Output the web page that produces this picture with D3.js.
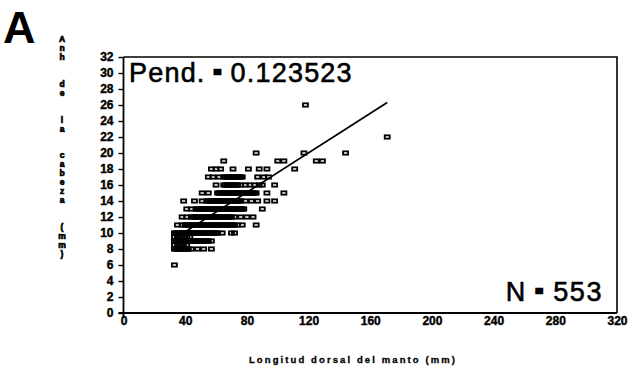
<!DOCTYPE html>
<html>
<head>
<meta charset="utf-8">
<script src="https://cdn.jsdelivr.net/npm/d3@7/dist/d3.min.js"></script>
<style>
  html, body { margin: 0; padding: 0; background: #fff; }
  svg { display: block; }
  text { font-family: "Liberation Sans", Arial, sans-serif; fill: #000; }
</style>
</head>
<body>
<svg id="chart" width="629" height="370"></svg>
<script>
// Head width (mm) of each row of measurements
const headWidth = [6, 8, 8.5, 9, 9.5, 10, 11, 12, 13, 14, 15, 16, 17, 18, 19, 20, 22, 26];

// Dorsal mantle length (mm) of the specimens in each head-width row
const mantleLength = [
  [33],
  [33, 34, 35, 36, 37, 38, 39, 40, 41, 42, 44, 48, 52, 57],
  [33, 35, 37, 39, 41],
  [33, 34, 35, 36, 37, 38, 39, 40, 41, 42, 43, 44, 45, 46, 47, 48, 49, 50, 51, 52, 53, 54, 55, 57],
  [33, 35, 37, 39, 41, 43],
  [33, 34, 35, 36, 37, 38, 39, 40, 41, 42, 43, 44, 45, 46, 47, 48, 49, 50, 51, 52, 53, 54, 55, 56, 57, 58, 59, 60, 61, 64, 70, 72],
  [35, 38, 40, 41, 42, 43, 44, 45, 46, 47, 48, 49, 50, 51, 52, 53, 54, 55, 56, 57, 58, 59, 60, 61, 62, 63, 64, 65, 66, 67, 68, 69, 70, 71, 72, 74, 77, 86],
  [38, 41, 44, 45, 46, 47, 48, 49, 50, 51, 52, 53, 54, 55, 56, 57, 58, 59, 60, 61, 62, 63, 64, 65, 66, 67, 68, 69, 70, 72, 76, 80, 84],
  [41, 44, 47, 48, 49, 50, 51, 52, 53, 54, 55, 56, 57, 58, 59, 60, 61, 62, 63, 64, 65, 66, 67, 68, 69, 70, 71, 72, 73, 74, 75, 76, 77, 78, 90],
  [39, 46, 51, 54, 55, 56, 57, 58, 59, 60, 61, 62, 63, 64, 65, 66, 67, 68, 69, 70, 71, 72, 73, 74, 75, 76, 79, 83, 87, 93, 98],
  [51, 55, 61, 62, 63, 64, 65, 66, 67, 68, 69, 70, 71, 72, 73, 74, 75, 76, 77, 78, 79, 80, 81, 82, 83, 84, 85, 86, 93, 104],
  [60, 65, 66, 67, 68, 69, 70, 71, 72, 73, 74, 76, 79, 82, 85, 88, 90, 98],
  [55, 58, 62, 65, 66, 67, 68, 69, 70, 71, 72, 73, 74, 75, 76, 77, 87, 91, 94],
  [57, 60, 63, 71, 81, 88, 93, 111],
  [65, 100, 104, 125, 129],
  [86, 117, 144],
  [171],
  [118]
];

// Fitted regression: slope and intercept
const slope = 0.123523;
const intercept = 5.2;
const sampleSize = 553;

// Axis ticks
const xTicks = [0, 40, 80, 120, 160, 200, 240, 280, 320];
const yTicks = [0, 2, 4, 6, 8, 10, 12, 14, 16, 18, 20, 22, 24, 26, 28, 30, 32];

const yTitle = "Anh  de  la  cabeza  (mm)";
const xTitle = "Longitud dorsal del manto (mm)";

const svg = d3.select("#chart");

const x = d3.scaleLinear().domain([0, 320]).range([123.5, 617]);
const y = d3.scaleLinear().domain([0, 32]).range([313, 57]);

const points = [];
headWidth.forEach((w, i) => mantleLength[i].forEach(l => points.push({ l, w })));

// Panel letter
svg.append("text")
  .attr("x", 3).attr("y", 43)
  .attr("font-size", 45).attr("font-weight", "bold")
  .text("A");

// Frame (top and right edges)
svg.append("path")
  .attr("d", `M${x(0)},${y(32)}H${x(320)}V${y(0)}`)
  .attr("fill", "none").attr("stroke", "#000").attr("stroke-width", 1.6);

// Y axis
const yAxis = svg.append("g")
  .attr("transform", `translate(${x(0)},0)`)
  .call(d3.axisLeft(y).tickValues(yTicks).tickSize(5).tickPadding(5).tickSizeOuter(0));
yAxis.select(".domain").attr("stroke-width", 1.8).attr("d", `M0,${y(32)}V${y(0) + 5}`);
yAxis.selectAll(".tick line").attr("stroke-width", 1.4);
yAxis.selectAll(".tick text")
  .attr("font-size", 12).attr("font-weight", "bold")
  .attr("stroke", "#000").attr("stroke-width", 0.4)
  .attr("font-family", "Liberation Sans, Arial, sans-serif");

// X axis
const xAxis = svg.append("g")
  .attr("transform", `translate(0,${y(0)})`)
  .call(d3.axisBottom(x).tickValues(xTicks).tickSize(0).tickPadding(3).tickSizeOuter(0));
xAxis.select(".domain").attr("stroke-width", 1.8).attr("d", `M${x(0) - 5},0H${x(320)}`);
xAxis.selectAll(".tick text")
  .attr("font-size", 12).attr("font-weight", "bold")
  .attr("stroke", "#000").attr("stroke-width", 0.4)
  .attr("font-family", "Liberation Sans, Arial, sans-serif");

// Scatter: open rectangles
svg.append("g").selectAll("rect")
  .data(points)
  .join("rect")
  .attr("x", d => x(d.l) - 2.5)
  .attr("y", d => y(d.w) - 1.65)
  .attr("width", 5).attr("height", 3.3)
  .attr("fill", "none").attr("stroke", "#000").attr("stroke-width", 1.8);

// Regression line across the observed length range
const [xMin, xMax] = d3.extent(points, d => d.l);
svg.append("line")
  .attr("x1", x(xMin)).attr("y1", y(intercept + slope * xMin))
  .attr("x2", x(xMax)).attr("y2", y(intercept + slope * xMax))
  .attr("stroke", "#000").attr("stroke-width", 1.7);

// Slope annotation
const pend = svg.append("text")
  .attr("x", 129).attr("y", 82)
  .attr("font-size", 27).attr("letter-spacing", 1.2)
  .attr("stroke", "#000").attr("stroke-width", 0.6);
pend.append("tspan").text("Pend. ");
pend.append("tspan").attr("font-size", 11).attr("dy", -6.5)
  .attr("stroke-width", 2.6).text("=");
pend.append("tspan").attr("dy", 6.5).text(" " + slope.toString());

// Sample size annotation
const nLab = svg.append("text")
  .attr("x", 603).attr("y", 301)
  .attr("text-anchor", "end")
  .attr("font-size", 27).attr("letter-spacing", 1.6)
  .attr("stroke", "#000").attr("stroke-width", 0.6);
nLab.append("tspan").text("N  ");
nLab.append("tspan").attr("font-size", 11).attr("dy", -6.5)
  .attr("stroke-width", 2.6).text("=");
nLab.append("tspan").attr("dy", 6.5).text("  " + sampleSize);

// Y title, stacked one character per line
svg.append("g").selectAll("text")
  .data(Array.from(yTitle))
  .join("text")
  .attr("x", 62)
  .attr("y", (c, i) => 42 + i * 8.96)
  .attr("text-anchor", "middle")
  .attr("font-size", 8.5).attr("font-weight", "bold")
  .attr("stroke", "#000").attr("stroke-width", 0.7)
  .text(c => c === " " ? "" : c);

// X title
svg.append("text")
  .attr("x", 353).attr("y", 363)
  .attr("text-anchor", "middle")
  .attr("font-size", 9.5).attr("font-weight", "bold")
  .attr("stroke", "#000").attr("stroke-width", 0.3)
  .attr("letter-spacing", 2.1)
  .text(xTitle);
</script>
</body>
</html>
